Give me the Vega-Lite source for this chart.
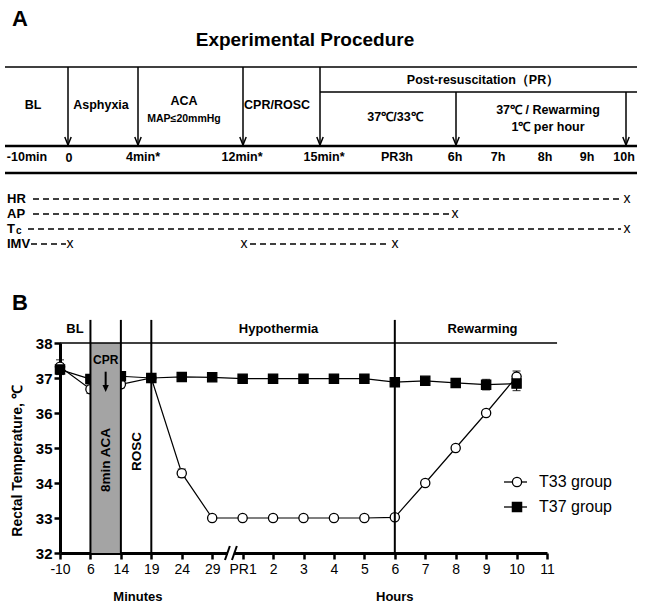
{
"$schema": "https://vega.github.io/schema/vega-lite/v6.json",
"width": 648, "height": 612, "autosize": "none", "padding": 0, "background": "white",
"config": {"view": {"stroke": null}, "font": "Liberation Sans", "text": {"font": "Liberation Sans", "color": "black"}},
"datasets": {
 "aTitle": [{"x":305,"y":40,"s":"Experimental Procedure"}],
 "aPanel": [{"x":12,"y":19,"s":"A"},{"x":12,"y":303,"s":"B"}],
 "aBold": [
  {"x":33,"y":105,"s":"BL"},{"x":101,"y":105,"s":"Asphyxia"},{"x":184,"y":101,"s":"ACA"},{"x":277,"y":105,"s":"CPR/ROSC"},
  {"x":483,"y":80,"s":"Post-resuscitation（PR）"},{"x":395,"y":117,"s":"37℃/33℃"},{"x":548,"y":110,"s":"37℃ / Rewarming"},{"x":548,"y":127,"s":"1℃ per hour"},
  {"x":27,"y":157,"s":"-10min"},{"x":69,"y":158,"s":"0"},{"x":143,"y":157,"s":"4min*"},{"x":242,"y":157,"s":"12min*"},{"x":324,"y":157,"s":"15min*"},
  {"x":397,"y":157,"s":"PR3h"},{"x":455,"y":157,"s":"6h"},{"x":498,"y":157,"s":"7h"},{"x":545,"y":157,"s":"8h"},{"x":587,"y":157,"s":"9h"},{"x":624,"y":157,"s":"10h"}],
 "aSmall": [{"x":184,"y":119,"s":"MAP≤20mmHg"}],
 "aRowLab": [{"x":7,"y":199,"s":"HR"},{"x":7,"y":214,"s":"AP"},{"x":7,"y":229,"s":"T"},{"x":7,"y":244,"s":"IMV"}],
 "aSub": [{"x":16,"y":231,"s":"c"}],
 "aX": [{"x":627,"y":199,"s":"x"},{"x":455,"y":214,"s":"x"},{"x":627,"y":229,"s":"x"},{"x":70,"y":244,"s":"x"},{"x":244,"y":244,"s":"x"},{"x":395,"y":244,"s":"x"}],
 "aDash": [{"x":33,"x2":622,"y":199},{"x":33,"x2":449,"y":214},{"x":28,"x2":621,"y":229},{"x":31,"x2":66,"y":244},{"x":250,"x2":388,"y":244}],
 "aThin": [{"x":5,"x2":637,"y":67},{"x":320,"x2":637,"y":92}],
 "aThick": [{"x":5,"x2":637,"y":146},{"x":5,"x2":637,"y":173}],
 "aArrow": [{"x":68,"y":67,"y2":145},{"x":138,"y":67,"y2":145},{"x":243,"y":67,"y2":145},{"x":320,"y":67,"y2":145},{"x":456,"y":92,"y2":145},{"x":626,"y":92,"y2":145}],
 "legStub": [{"x":504,"x2":527,"y":482},{"x":504,"x2":527,"y":507}],
 "temp": [
  {"g":"T33 group","i":0,"t":37.32},{"g":"T33 group","i":1,"t":36.68},{"g":"T33 group","i":2,"t":36.82},{"g":"T33 group","i":3,"t":37.0},
  {"g":"T33 group","i":4,"t":34.28},{"g":"T33 group","i":5,"t":33.0},{"g":"T33 group","i":6,"t":33.0},{"g":"T33 group","i":7,"t":33.0},
  {"g":"T33 group","i":8,"t":33.0},{"g":"T33 group","i":9,"t":33.0},{"g":"T33 group","i":10,"t":33.0},{"g":"T33 group","i":11,"t":33.02},
  {"g":"T33 group","i":12,"t":34.0},{"g":"T33 group","i":13,"t":35.0},{"g":"T33 group","i":14,"t":36.0},{"g":"T33 group","i":15,"t":37.04},
  {"g":"T37 group","i":0,"t":37.24},{"g":"T37 group","i":1,"t":36.97},{"g":"T37 group","i":2,"t":37.05},{"g":"T37 group","i":3,"t":37.0},
  {"g":"T37 group","i":4,"t":37.03},{"g":"T37 group","i":5,"t":37.02},{"g":"T37 group","i":6,"t":36.98},{"g":"T37 group","i":7,"t":36.98},
  {"g":"T37 group","i":8,"t":36.98},{"g":"T37 group","i":9,"t":36.98},{"g":"T37 group","i":10,"t":36.98},{"g":"T37 group","i":11,"t":36.88},
  {"g":"T37 group","i":12,"t":36.92},{"g":"T37 group","i":13,"t":36.86},{"g":"T37 group","i":14,"t":36.81},{"g":"T37 group","i":15,"t":36.84}],
 "err": [
  {"g":"T33 group","i":0,"lo":37.12,"hi":37.52},{"g":"T37 group","i":0,"lo":37.1,"hi":37.38},
  {"g":"T33 group","i":1,"lo":36.56,"hi":36.8},{"g":"T33 group","i":2,"lo":36.72,"hi":36.92},
  {"g":"T33 group","i":4,"lo":34.16,"hi":34.4},{"g":"T33 group","i":7,"lo":32.92,"hi":33.08},
  {"g":"T37 group","i":11,"lo":36.76,"hi":37.0},{"g":"T37 group","i":12,"lo":36.84,"hi":37.0},
  {"g":"T37 group","i":14,"lo":36.66,"hi":36.96},{"g":"T37 group","i":15,"lo":36.64,"hi":37.02},
  {"g":"T33 group","i":15,"lo":36.9,"hi":37.2}],
 "bRect": [{"i":1,"i2":2,"t":32,"t2":38}],
 "bV": [{"i":1,"t":32,"t2":38.66},{"i":2,"t":32,"t2":38.66},{"i":3,"t":32,"t2":38.66},{"i":11,"t":32,"t2":38.66}],
 "bH": [{"i":0,"i2":16.33,"t":38}],
 "bLab": [{"i":0.49,"t":38.39,"s":"BL"},{"i":7.18,"t":38.39,"s":"Hypothermia"},{"i":13.88,"t":38.39,"s":"Rewarming"},{"i":2.56,"t":30.74,"s":"Minutes"},{"i":11.0,"t":30.74,"s":"Hours"}],
 "bCPR": [{"i":1.5,"t":37.51,"s":"CPR"}],
 "bRot": [{"i":1.5,"t":34.66,"s":"8min ACA"},{"i":2.53,"t":34.9,"s":"ROSC"}],
 "bYT": [{"i":-1.38,"t":34.63,"s":"Rectal  Temperature,  ℃"}],
 "bArrow": [{"i":1.5,"t":37.18,"t2":36.8,"tip":36.6}],
 "bBreakW": [{"i":5.52,"i2":5.72,"t":32}],
 "bBreak": [{"i":5.42,"i2":5.58,"t":31.8,"t2":32.2},{"i":5.65,"i2":5.81,"t":31.8,"t2":32.2}]
},
"layer": [
 {"layer": [
  {"data":{"name":"aThin"},"mark":{"type":"rule","color":"black","strokeWidth":1.5},
   "encoding":{"x":{"field":"x","type":"quantitative","scale":{"domain":[0,648],"range":[0,648],"nice":false,"zero":false},"axis":null},"x2":{"field":"x2"},
   "y":{"field":"y","type":"quantitative","scale":{"domain":[0,612],"range":[0,612],"nice":false,"zero":false},"axis":null}}},
  {"data":{"name":"aThick"},"mark":{"type":"rule","color":"black","strokeWidth":2.5},
   "encoding":{"x":{"field":"x","type":"quantitative","scale":{"domain":[0,648],"range":[0,648],"nice":false,"zero":false},"axis":null},"x2":{"field":"x2"},
   "y":{"field":"y","type":"quantitative","scale":{"domain":[0,612],"range":[0,612],"nice":false,"zero":false},"axis":null}}},
  {"data":{"name":"aArrow"},"mark":{"type":"rule","color":"black","strokeWidth":1.5},
   "encoding":{"x":{"field":"x","type":"quantitative","scale":{"domain":[0,648],"range":[0,648],"nice":false,"zero":false},"axis":null},
   "y":{"field":"y","type":"quantitative","scale":{"domain":[0,612],"range":[0,612],"nice":false,"zero":false},"axis":null},"y2":{"field":"y2"}}},
  {"data":{"name":"aArrow"},"mark":{"type":"point","shape":"M-0.4,-1L0,0L0.4,-1","filled":false,"stroke":"black","strokeWidth":1.5,"size":256,"opacity":1},
   "encoding":{"x":{"field":"x","type":"quantitative","scale":{"domain":[0,648],"range":[0,648],"nice":false,"zero":false},"axis":null},
   "y":{"field":"y2","type":"quantitative","scale":{"domain":[0,612],"range":[0,612],"nice":false,"zero":false},"axis":null}}},
  {"data":{"name":"aDash"},"mark":{"type":"rule","color":"black","strokeWidth":1.4,"strokeDash":[6,4]},
   "encoding":{"x":{"field":"x","type":"quantitative","scale":{"domain":[0,648],"range":[0,648],"nice":false,"zero":false},"axis":null},"x2":{"field":"x2"},
   "y":{"field":"y","type":"quantitative","scale":{"domain":[0,612],"range":[0,612],"nice":false,"zero":false},"axis":null}}},
  {"data":{"name":"legStub"},"mark":{"type":"rule","color":"black","strokeWidth":1.3},
   "encoding":{"x":{"field":"x","type":"quantitative","scale":{"domain":[0,648],"range":[0,648],"nice":false,"zero":false},"axis":null},"x2":{"field":"x2"},
   "y":{"field":"y","type":"quantitative","scale":{"domain":[0,612],"range":[0,612],"nice":false,"zero":false},"axis":null}}},
  {"data":{"name":"aTitle"},"mark":{"type":"text","fontSize":19,"fontWeight":"bold","align":"center","baseline":"middle"},
   "encoding":{"x":{"field":"x","type":"quantitative","scale":{"domain":[0,648],"range":[0,648],"nice":false,"zero":false},"axis":null},
   "y":{"field":"y","type":"quantitative","scale":{"domain":[0,612],"range":[0,612],"nice":false,"zero":false},"axis":null},"text":{"field":"s"}}},
  {"data":{"name":"aPanel"},"mark":{"type":"text","fontSize":22,"fontWeight":"bold","align":"left","baseline":"middle"},
   "encoding":{"x":{"field":"x","type":"quantitative","scale":{"domain":[0,648],"range":[0,648],"nice":false,"zero":false},"axis":null},
   "y":{"field":"y","type":"quantitative","scale":{"domain":[0,612],"range":[0,612],"nice":false,"zero":false},"axis":null},"text":{"field":"s"}}},
  {"data":{"name":"aBold"},"mark":{"type":"text","fontSize":12.5,"fontWeight":"bold","align":"center","baseline":"middle"},
   "encoding":{"x":{"field":"x","type":"quantitative","scale":{"domain":[0,648],"range":[0,648],"nice":false,"zero":false},"axis":null},
   "y":{"field":"y","type":"quantitative","scale":{"domain":[0,612],"range":[0,612],"nice":false,"zero":false},"axis":null},"text":{"field":"s"}}},
  {"data":{"name":"aSmall"},"mark":{"type":"text","fontSize":10.5,"fontWeight":"bold","align":"center","baseline":"middle"},
   "encoding":{"x":{"field":"x","type":"quantitative","scale":{"domain":[0,648],"range":[0,648],"nice":false,"zero":false},"axis":null},
   "y":{"field":"y","type":"quantitative","scale":{"domain":[0,612],"range":[0,612],"nice":false,"zero":false},"axis":null},"text":{"field":"s"}}},
  {"data":{"name":"aRowLab"},"mark":{"type":"text","fontSize":13,"fontWeight":"bold","align":"left","baseline":"middle"},
   "encoding":{"x":{"field":"x","type":"quantitative","scale":{"domain":[0,648],"range":[0,648],"nice":false,"zero":false},"axis":null},
   "y":{"field":"y","type":"quantitative","scale":{"domain":[0,612],"range":[0,612],"nice":false,"zero":false},"axis":null},"text":{"field":"s"}}},
  {"data":{"name":"aSub"},"mark":{"type":"text","fontSize":10,"fontWeight":"bold","align":"left","baseline":"middle"},
   "encoding":{"x":{"field":"x","type":"quantitative","scale":{"domain":[0,648],"range":[0,648],"nice":false,"zero":false},"axis":null},
   "y":{"field":"y","type":"quantitative","scale":{"domain":[0,612],"range":[0,612],"nice":false,"zero":false},"axis":null},"text":{"field":"s"}}},
  {"data":{"name":"aX"},"mark":{"type":"text","fontSize":14,"align":"center","baseline":"middle"},
   "encoding":{"x":{"field":"x","type":"quantitative","scale":{"domain":[0,648],"range":[0,648],"nice":false,"zero":false},"axis":null},
   "y":{"field":"y","type":"quantitative","scale":{"domain":[0,612],"range":[0,612],"nice":false,"zero":false},"axis":null},"text":{"field":"s"}}}
 ]},
 {"layer": [
  {"data":{"name":"temp"},"mark":{"type":"line","color":"black","strokeWidth":1.2},
   "encoding":{
    "x":{"field":"i","type":"quantitative","scale":{"domain":[0,16],"range":[60,547],"nice":false,"zero":false},
      "axis":{"orient":"bottom","offset":-59,"values":[0,1,2,3,4,5,6,7,8,9,10,11,12,13,14,15,16],"labelExpr":"['-10','6','14','19','24','29','PR1','2','3','4','5','6','7','8','9','10','11'][datum.value]","title":null,"grid":false,"domainColor":"black","domainWidth":3,"tickColor":"black","tickWidth":2.5,"tickSize":6,"labelColor":"black","labelFontSize":14,"labelPadding":3,"labelFlush":false,"labelOverlap":false}},
    "y":{"field":"t","type":"quantitative","scale":{"domain":[32,38],"range":[553,343],"nice":false,"zero":false},
      "axis":{"orient":"left","offset":-60,"values":[32,33,34,35,36,37,38],"format":"d","title":null,"grid":false,"domainColor":"black","domainWidth":3,"tickColor":"black","tickWidth":2.5,"tickSize":6,"labelColor":"black","labelFontSize":15,"labelFontWeight":"bold","labelPadding":2,"labelFlush":false,"labelOverlap":false}},
    "detail":{"field":"g"}}},
  {"data":{"name":"err"},"mark":{"type":"rule","color":"black","strokeWidth":1.2},
   "encoding":{
    "x":{"field":"i","type":"quantitative","scale":{"domain":[0,16],"range":[60,547],"nice":false,"zero":false}},
    "y":{"field":"lo","type":"quantitative","scale":{"domain":[32,38],"range":[553,343],"nice":false,"zero":false}},
    "y2":{"field":"hi"}}},
  {"data":{"name":"err"},"mark":{"type":"tick","orient":"horizontal","color":"black","size":8,"thickness":1.2},
   "encoding":{
    "x":{"field":"i","type":"quantitative","scale":{"domain":[0,16],"range":[60,547],"nice":false,"zero":false}},
    "y":{"field":"lo","type":"quantitative","scale":{"domain":[32,38],"range":[553,343],"nice":false,"zero":false}}}},
  {"data":{"name":"err"},"mark":{"type":"tick","orient":"horizontal","color":"black","size":8,"thickness":1.2},
   "encoding":{
    "x":{"field":"i","type":"quantitative","scale":{"domain":[0,16],"range":[60,547],"nice":false,"zero":false}},
    "y":{"field":"hi","type":"quantitative","scale":{"domain":[32,38],"range":[553,343],"nice":false,"zero":false}}}},
  {"data":{"name":"temp"},"mark":{"type":"point","filled":true,"strokeWidth":1.3,"opacity":1,"size":85},
   "encoding":{
    "x":{"field":"i","type":"quantitative","scale":{"domain":[0,16],"range":[60,547],"nice":false,"zero":false}},
    "y":{"field":"t","type":"quantitative","scale":{"domain":[32,38],"range":[553,343],"nice":false,"zero":false}},
    "shape":{"field":"g","type":"nominal","title":null,"scale":{"domain":["T33 group","T37 group"],"range":["circle","square"]},
      "legend":{"orient":"none","legendX":509,"legendY":474,"labelFontSize":16,"labelColor":"black","labelFont":"Liberation Sans","symbolSize":85,"symbolStrokeWidth":1.3,"labelOffset":14,"rowPadding":9,"padding":0}},
    "fill":{"field":"g","type":"nominal","title":null,"scale":{"domain":["T33 group","T37 group"],"range":["white","black"]},
      "legend":{"orient":"none","legendX":509,"legendY":474,"labelFontSize":16,"labelColor":"black","labelFont":"Liberation Sans","symbolSize":85,"symbolStrokeWidth":1.3,"labelOffset":14,"rowPadding":9,"padding":0}},
    "stroke":{"field":"g","type":"nominal","title":null,"scale":{"domain":["T33 group","T37 group"],"range":["black","black"]},
      "legend":{"orient":"none","legendX":509,"legendY":474,"labelFontSize":16,"labelColor":"black","labelFont":"Liberation Sans","symbolSize":85,"symbolStrokeWidth":1.3,"labelOffset":14,"rowPadding":9,"padding":0}}}},
  {"data":{"name":"bRect"},"mark":{"type":"rect","fill":"#a4a4a4"},
   "encoding":{
    "x":{"field":"i","type":"quantitative","scale":{"domain":[0,16],"range":[60,547],"nice":false,"zero":false}},"x2":{"field":"i2"},
    "y":{"field":"t","type":"quantitative","scale":{"domain":[32,38],"range":[553,343],"nice":false,"zero":false}},"y2":{"field":"t2"}}},
  {"data":{"name":"bV"},"mark":{"type":"rule","color":"black","strokeWidth":2},
   "encoding":{
    "x":{"field":"i","type":"quantitative","scale":{"domain":[0,16],"range":[60,547],"nice":false,"zero":false}},
    "y":{"field":"t","type":"quantitative","scale":{"domain":[32,38],"range":[553,343],"nice":false,"zero":false}},"y2":{"field":"t2"}}},
  {"data":{"name":"bH"},"mark":{"type":"rule","color":"black","strokeWidth":1.5},
   "encoding":{
    "x":{"field":"i","type":"quantitative","scale":{"domain":[0,16],"range":[60,547],"nice":false,"zero":false}},"x2":{"field":"i2"},
    "y":{"field":"t","type":"quantitative","scale":{"domain":[32,38],"range":[553,343],"nice":false,"zero":false}}}},
  {"data":{"name":"bArrow"},"mark":{"type":"rule","color":"black","strokeWidth":2},
   "encoding":{
    "x":{"field":"i","type":"quantitative","scale":{"domain":[0,16],"range":[60,547],"nice":false,"zero":false}},
    "y":{"field":"t","type":"quantitative","scale":{"domain":[32,38],"range":[553,343],"nice":false,"zero":false}},"y2":{"field":"t2"}}},
  {"data":{"name":"bArrow"},"mark":{"type":"point","shape":"M-0.45,-1L0.45,-1L0,0Z","filled":true,"color":"black","size":196,"opacity":1},
   "encoding":{
    "x":{"field":"i","type":"quantitative","scale":{"domain":[0,16],"range":[60,547],"nice":false,"zero":false}},
    "y":{"field":"tip","type":"quantitative","scale":{"domain":[32,38],"range":[553,343],"nice":false,"zero":false}}}},
  {"data":{"name":"bLab"},"mark":{"type":"text","fontSize":13,"fontWeight":"bold","align":"center","baseline":"middle"},
   "encoding":{
    "x":{"field":"i","type":"quantitative","scale":{"domain":[0,16],"range":[60,547],"nice":false,"zero":false}},
    "y":{"field":"t","type":"quantitative","scale":{"domain":[32,38],"range":[553,343],"nice":false,"zero":false}},"text":{"field":"s"}}},
  {"data":{"name":"bCPR"},"mark":{"type":"text","fontSize":12,"fontWeight":"bold","align":"center","baseline":"middle"},
   "encoding":{
    "x":{"field":"i","type":"quantitative","scale":{"domain":[0,16],"range":[60,547],"nice":false,"zero":false}},
    "y":{"field":"t","type":"quantitative","scale":{"domain":[32,38],"range":[553,343],"nice":false,"zero":false}},"text":{"field":"s"}}},
  {"data":{"name":"bRot"},"mark":{"type":"text","fontSize":13.5,"fontWeight":"bold","align":"center","baseline":"middle","angle":270},
   "encoding":{
    "x":{"field":"i","type":"quantitative","scale":{"domain":[0,16],"range":[60,547],"nice":false,"zero":false}},
    "y":{"field":"t","type":"quantitative","scale":{"domain":[32,38],"range":[553,343],"nice":false,"zero":false}},"text":{"field":"s"}}},
  {"data":{"name":"bYT"},"mark":{"type":"text","fontSize":14,"fontWeight":"bold","align":"center","baseline":"middle","angle":270},
   "encoding":{
    "x":{"field":"i","type":"quantitative","scale":{"domain":[0,16],"range":[60,547],"nice":false,"zero":false}},
    "y":{"field":"t","type":"quantitative","scale":{"domain":[32,38],"range":[553,343],"nice":false,"zero":false}},"text":{"field":"s"}}},
  {"data":{"name":"bBreakW"},"mark":{"type":"rule","color":"white","strokeWidth":7},
   "encoding":{
    "x":{"field":"i","type":"quantitative","scale":{"domain":[0,16],"range":[60,547],"nice":false,"zero":false}},"x2":{"field":"i2"},
    "y":{"field":"t","type":"quantitative","scale":{"domain":[32,38],"range":[553,343],"nice":false,"zero":false}}}},
  {"data":{"name":"bBreak"},"mark":{"type":"rule","color":"black","strokeWidth":2},
   "encoding":{
    "x":{"field":"i","type":"quantitative","scale":{"domain":[0,16],"range":[60,547],"nice":false,"zero":false}},"x2":{"field":"i2"},
    "y":{"field":"t","type":"quantitative","scale":{"domain":[32,38],"range":[553,343],"nice":false,"zero":false}},"y2":{"field":"t2"}}}
 ]}
],
"resolve": {"scale": {"x": "independent", "y": "independent"}, "legend": {"shape": "shared", "fill": "shared", "stroke": "shared"}}
}
